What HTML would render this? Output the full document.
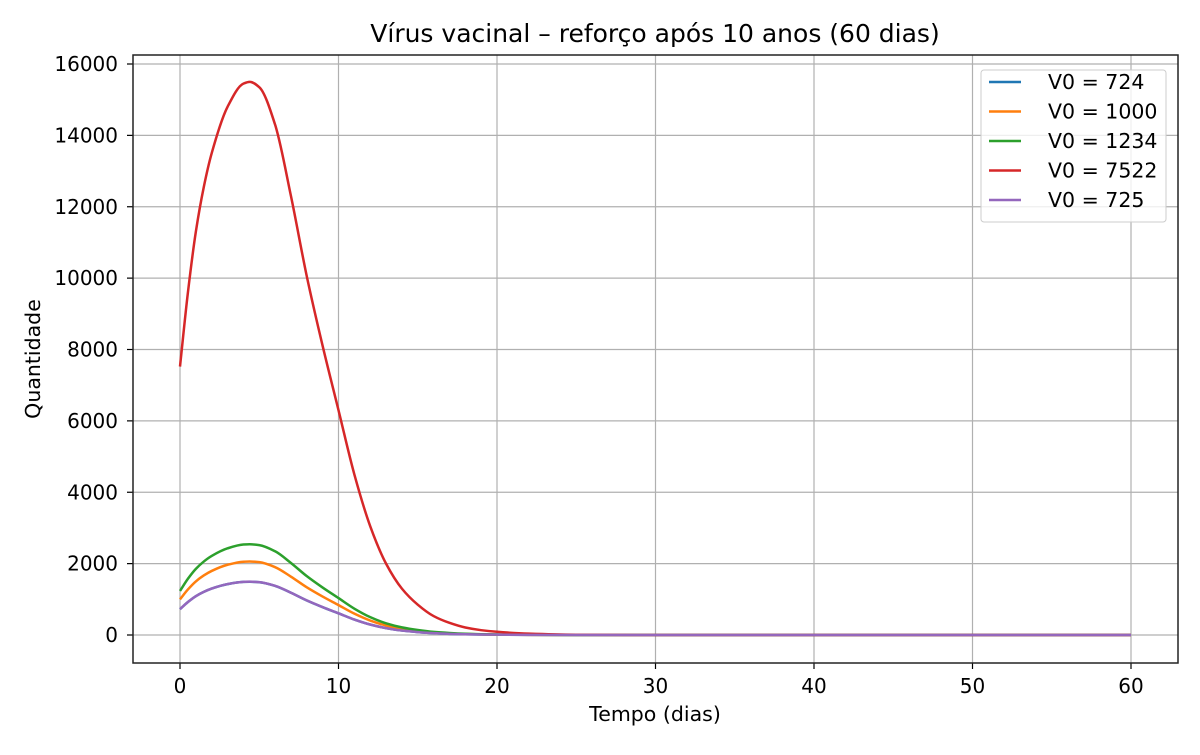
<!DOCTYPE html>
<html><head><meta charset="utf-8"><style>
body{margin:0;background:#fff}
svg{font-family:"DejaVu Sans","Liberation Sans",sans-serif}
</style></head><body>
<svg id="chart" width="1200" height="750"></svg>
<script>
const times=[0,0.5,1,1.5,2,3,4,4.4,5,6,7,8,9,10,11,12,13,14,15,16,17,18,19,20,22,25,30,60];
const seriesLabels=["V0 = 724","V0 = 1000","V0 = 1234","V0 = 7522","V0 = 725"];
const s724=[724,924,1088,1208,1300,1425,1487,1492,1478,1376,1184,967,780,607,433,293,193,125,82,51,33,20,13,9,4,1,0,0];
const s1000=[1000,1276,1502,1668,1795,1968,2054,2061,2041,1901,1635,1336,1077,838,598,405,266,173,113,70,45,28,18,12,5,1,0,0];
const s1234=[1234,1575,1853,2058,2215,2428,2535,2543,2519,2346,2018,1649,1329,1034,738,500,328,213,139,86,56,35,22,15,6,1,0,0];
const s7522=[7522,9600,11300,12550,13500,14800,15450,15500,15350,14300,12300,10050,8100,6300,4500,3050,2000,1300,850,530,340,210,135,90,38,8,0,0];
const s725=[725,925,1089,1209,1301,1427,1489,1494,1480,1378,1185,969,781,608,434,294,193,125,82,51,33,20,13,9,4,1,0,0];
const xTicks=[0,10,20,30,40,50,60];
const yTicks=[0,2000,4000,6000,8000,10000,12000,14000,16000];
const colors=["#1f77b4","#ff7f0e","#2ca02c","#d62728","#9467bd"];
const allSeries=[s724,s1000,s1234,s7522,s725];

const NS="http://www.w3.org/2000/svg";
const svg=document.getElementById("chart");
const L=133,R=1178,T=55,B=663;
const X=v=>180+(v/60)*(1131-180);
const Y=v=>635-(v/16000)*(635-64);
function mk(tag,attrs,parent){const e=document.createElementNS(NS,tag);for(const k in attrs)e.setAttribute(k,attrs[k]);(parent||svg).appendChild(e);return e;}

const grid=mk("g",{});


xTicks.forEach(t=>{
  mk("line",{x1:X(t),x2:X(t),y1:T,y2:B,stroke:"#b0b0b0","stroke-width":1.2},grid);
  mk("line",{x1:X(t),x2:X(t),y1:B,y2:B+6,stroke:"#000","stroke-width":1.2});
  const tx=mk("text",{x:X(t),y:693,"text-anchor":"middle","font-size":20});
  tx.textContent=t;
  
  
});
yTicks.forEach(t=>{
  mk("line",{x1:L,x2:R,y1:Y(t),y2:Y(t),stroke:"#b0b0b0","stroke-width":1.2},grid);
  mk("line",{x1:L-6,x2:L,y1:Y(t),y2:Y(t),stroke:"#000","stroke-width":1.2});
  const tx=mk("text",{x:L-15,y:Y(t)+7,"text-anchor":"end","font-size":20});
  tx.textContent=t;
  
  
});

function pathFor(vals){
  const xs=times.map(X), ys=vals.map(Y), n=xs.length;
  const d=[],m=new Array(n);
  for(let i=0;i<n-1;i++)d.push((ys[i+1]-ys[i])/(xs[i+1]-xs[i]));
  m[0]=d[0];m[n-1]=d[n-2];
  for(let i=1;i<n-1;i++){
    if(d[i-1]*d[i]<=0)m[i]=0;
    else{const h0=xs[i]-xs[i-1],h1=xs[i+1]-xs[i];const w1=2*h1+h0,w2=h1+2*h0;m[i]=(w1+w2)/(w1/d[i-1]+w2/d[i]);}
  }
  let s="M"+xs[0]+","+ys[0];
  for(let i=0;i<n-1;i++){
    const h=(xs[i+1]-xs[i])/3;
    s+=` C${xs[i]+h},${ys[i]+m[i]*h} ${xs[i+1]-h},${ys[i+1]-m[i+1]*h} ${xs[i+1]},${ys[i+1]}`;
  }
  return s;
}
allSeries.forEach((s,i)=>{
  const p=mk("path",{d:pathFor(s),fill:"none",stroke:colors[i],"stroke-width":2.5});
  
  
});

mk("rect",{x:L,y:T,width:R-L,height:B-T,fill:"none",stroke:"#222","stroke-width":1.5});

const title=mk("text",{x:655,y:42,"text-anchor":"middle","font-size":25});
title.textContent="Vírus vacinal – reforço após 10 anos (60 dias)";


const xl=mk("text",{x:655,y:721,"text-anchor":"middle","font-size":20.5});
xl.textContent="Tempo (dias)";


const yl=mk("text",{x:40,y:359,"text-anchor":"middle","font-size":20.5,transform:"rotate(-90 40 359)"});
yl.textContent="Quantidade";



const lg=mk("g",{});


mk("rect",{x:981,y:70,width:185,height:152,rx:3,fill:"#fff","fill-opacity":0.8,stroke:"#ccc"},lg);
seriesLabels.forEach((lab,i)=>{
  const y=82+i*29.5;
  mk("line",{x1:989,x2:1021,y1:y,y2:y,stroke:colors[i],"stroke-width":2.5},lg);
  const t=mk("text",{x:1048,y:y+7,"font-size":20.5},lg);
  t.textContent=lab;
  
  
});
</script>
</body></html>
